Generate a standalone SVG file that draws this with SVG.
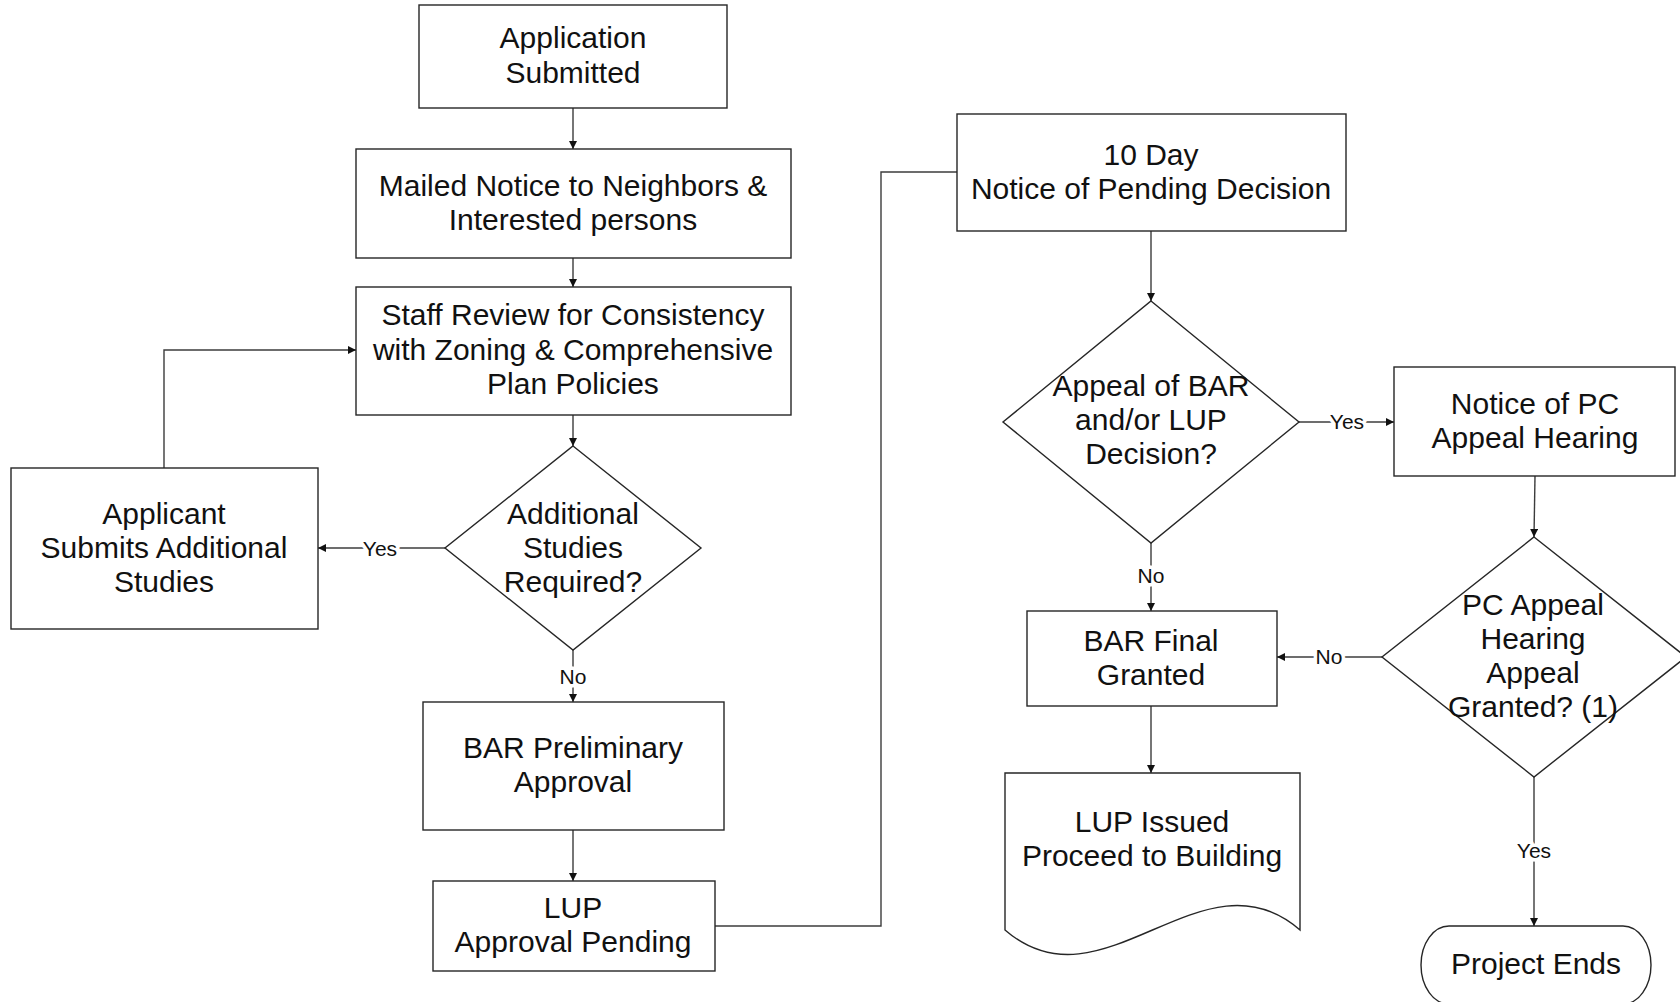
<svg xmlns="http://www.w3.org/2000/svg" width="1680" height="1002" viewBox="0 0 1680 1002">
<defs>
<style>
.shape{fill:#fff;stroke:#262626;stroke-width:1.4}
.t{font-family:"Liberation Sans",Arial,sans-serif;font-size:30px;fill:#111;text-anchor:middle}
.c{fill:none;stroke:#3c3c3c;stroke-width:1.4}
.lbl{font-family:"Liberation Sans",Arial,sans-serif;font-size:21px;fill:#111;text-anchor:middle;stroke:#fff;stroke-width:7px;paint-order:stroke;stroke-linejoin:round}
</style>
<marker id="arr" markerWidth="10" markerHeight="10" refX="8" refY="4" orient="auto" markerUnits="userSpaceOnUse">
<path d="M0,0 L8,4 L0,8 z" fill="#111"/>
</marker>
</defs>
<rect width="1680" height="1002" fill="#fff"/>

<g id="connectors">
<path class="c" d="M573,108 V149" marker-end="url(#arr)"/>
<path class="c" d="M573,258 V287" marker-end="url(#arr)"/>
<path class="c" d="M573,415 V446" marker-end="url(#arr)"/>
<path class="c" d="M445,548 H318" marker-end="url(#arr)"/>
<path class="c" d="M164,468 V350 H356" marker-end="url(#arr)"/>
<path class="c" d="M573,650 V702" marker-end="url(#arr)"/>
<path class="c" d="M573,830 V881" marker-end="url(#arr)"/>
<path class="c" d="M715,926 H881 V172 H957"/>
<path class="c" d="M1151,231 V301" marker-end="url(#arr)"/>
<path class="c" d="M1299,422 H1394" marker-end="url(#arr)"/>
<path class="c" d="M1151,543 V611" marker-end="url(#arr)"/>
<path class="c" d="M1535,476 L1534,537" marker-end="url(#arr)"/>
<path class="c" d="M1382,657 H1277" marker-end="url(#arr)"/>
<path class="c" d="M1151,706 V773" marker-end="url(#arr)"/>
<path class="c" d="M1534,777 V926" marker-end="url(#arr)"/>
<text class="lbl" x="380" y="556">Yes</text>
<text class="lbl" x="573" y="684">No</text>
<text class="lbl" x="1347" y="429">Yes</text>
<text class="lbl" x="1151" y="583">No</text>
<text class="lbl" x="1329" y="664">No</text>
<text class="lbl" x="1534" y="858">Yes</text>
</g>

<g id="n-application">
<rect class="shape" x="419" y="5" width="308" height="103"/>
<text class="t" x="573" y="48">Application</text>
<text class="t" x="573" y="83">Submitted</text>
</g>

<g id="n-mailed">
<rect class="shape" x="356" y="149" width="435" height="109"/>
<text class="t" x="573" y="196">Mailed Notice to Neighbors &amp;</text>
<text class="t" x="573" y="230">Interested persons</text>
</g>

<g id="n-staff">
<rect class="shape" x="356" y="287" width="435" height="128"/>
<text class="t" x="573" y="325">Staff Review for Consistency</text>
<text class="t" x="573" y="360">with Zoning &amp; Comprehensive</text>
<text class="t" x="573" y="394">Plan Policies</text>
</g>

<g id="n-additional">
<polygon class="shape" points="573,446 701,548 573,650 445,548"/>
<text class="t" x="573" y="524">Additional</text>
<text class="t" x="573" y="558">Studies</text>
<text class="t" x="573" y="592">Required?</text>
</g>

<g id="n-applicant">
<rect class="shape" x="11" y="468" width="307" height="161"/>
<text class="t" x="164" y="524">Applicant</text>
<text class="t" x="164" y="558">Submits Additional</text>
<text class="t" x="164" y="592">Studies</text>
</g>

<g id="n-barprelim">
<rect class="shape" x="423" y="702" width="301" height="128"/>
<text class="t" x="573" y="758">BAR Preliminary</text>
<text class="t" x="573" y="792">Approval</text>
</g>

<g id="n-luppending">
<rect class="shape" x="433" y="881" width="282" height="90"/>
<text class="t" x="573" y="918">LUP</text>
<text class="t" x="573" y="952">Approval Pending</text>
</g>

<g id="n-tenday">
<rect class="shape" x="957" y="114" width="389" height="117"/>
<text class="t" x="1151" y="165">10 Day</text>
<text class="t" x="1151" y="199">Notice of Pending Decision</text>
</g>

<g id="n-appeal">
<polygon class="shape" points="1151,301 1299,422 1151,543 1003,422"/>
<text class="t" x="1151" y="396">Appeal of BAR</text>
<text class="t" x="1151" y="430">and/or LUP</text>
<text class="t" x="1151" y="464">Decision?</text>
</g>

<g id="n-noticepc">
<rect class="shape" x="1394" y="367" width="281" height="109"/>
<text class="t" x="1535" y="414">Notice of PC</text>
<text class="t" x="1535" y="448">Appeal Hearing</text>
</g>

<g id="n-pcappeal">
<polygon class="shape" points="1534,537 1686,657 1534,777 1382,657"/>
<text class="t" x="1533" y="615">PC Appeal</text>
<text class="t" x="1533" y="649">Hearing</text>
<text class="t" x="1533" y="683">Appeal</text>
<text class="t" x="1533" y="717">Granted? (1)</text>
</g>

<g id="n-barfinal">
<rect class="shape" x="1027" y="611" width="250" height="95"/>
<text class="t" x="1151" y="651">BAR Final</text>
<text class="t" x="1151" y="685">Granted</text>
</g>

<g id="n-lupissued">
<path class="shape" d="M1005,773 H1300 V930 C1202,845 1103,1015 1005,930 Z"/>
<text class="t" x="1152" y="832">LUP Issued</text>
<text class="t" x="1152" y="866">Proceed to Building</text>
</g>

<g id="n-projectends">
<path class="shape" d="M1449,926 H1623 A28,39 0 0 1 1623,1004 H1449 A28,39 0 0 1 1449,926 Z"/>
<text class="t" x="1536" y="974">Project Ends</text>
</g>
</svg>
